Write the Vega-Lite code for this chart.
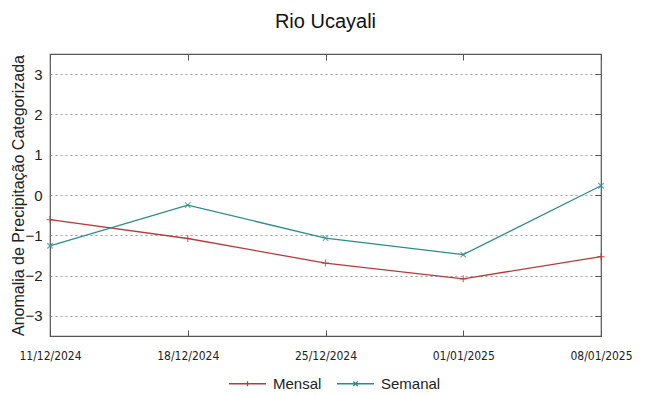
{
  "$schema": "https://vega.github.io/schema/vega-lite/v6.json",
  "width": 551,
  "height": 282,
  "autosize": {"type": "none"},
  "padding": {"left": 50, "top": 54, "right": 48, "bottom": 60},
  "background": "white",
  "title": {
    "text": "Rio Ucayali",
    "anchor": "middle",
    "font": "Liberation Sans",
    "fontSize": 20,
    "fontWeight": "normal",
    "color": "#111111",
    "offset": 22
  },
  "config": {
    "view": {"stroke": "#555555", "strokeWidth": 1.2},
    "axis": {"labelFont": "Liberation Sans", "titleFont": "Liberation Sans", "labelColor": "#222222", "titleColor": "#222222"}
  },
  "data": {
    "values": [
      {"data": "11/12/2024", "serie": "Mensal", "valor": -0.61},
      {"data": "18/12/2024", "serie": "Mensal", "valor": -1.08},
      {"data": "25/12/2024", "serie": "Mensal", "valor": -1.69},
      {"data": "01/01/2025", "serie": "Mensal", "valor": -2.08},
      {"data": "08/01/2025", "serie": "Mensal", "valor": -1.53},
      {"data": "11/12/2024", "serie": "Semanal", "valor": -1.26},
      {"data": "18/12/2024", "serie": "Semanal", "valor": -0.25},
      {"data": "25/12/2024", "serie": "Semanal", "valor": -1.07},
      {"data": "01/01/2025", "serie": "Semanal", "valor": -1.48},
      {"data": "08/01/2025", "serie": "Semanal", "valor": 0.23}
    ]
  },
  "resolve": {"axis": {"x": "independent", "y": "independent"}},
  "layer": [
    {
      "mark": {"type": "line", "strokeWidth": 1.3},
      "encoding": {
        "x": {
          "field": "data", "type": "ordinal", "sort": null,
          "scale": {"type": "point", "padding": 0},
          "axis": {"title": null, "labelAngle": 0, "labelFont": "DejaVu Sans Condensed, Liberation Sans", "labelFontSize": 12, "ticks": true, "tickSize": -6, "tickColor": "#555555", "domain": false, "labelPadding": 20, "grid": false}
        },
        "y": {
          "field": "valor", "type": "quantitative",
          "scale": {"domain": [-3.5, 3.5], "nice": false, "zero": false},
          "axis": {"title": "Anomalia de Precipitação Categorizada", "titleFontSize": 16, "titleFontWeight": "normal", "titlePadding": -2, "values": [-3, -2, -1, 0, 1, 2, 3], "labelFontSize": 15, "labelPadding": 8, "ticks": false, "domain": false, "grid": true, "gridColor": "#999999", "gridDash": [2, 3], "gridWidth": 1}
        },
        "color": {
          "field": "serie", "type": "nominal",
          "scale": {"domain": ["Mensal", "Semanal"], "range": ["#b83a3a", "#2b8c8c"]},
          "legend": {
            "title": null, "orient": "none", "direction": "horizontal", "legendX": 178, "legendY": 310,
            "labelFont": "Liberation Sans", "labelFontSize": 15, "labelColor": "#222222",
            "symbolSize": 1369, "symbolStrokeWidth": 1.3, "symbolType": "M-1,0H1M0,-0.12V0.12",
            "columnPadding": 12, "labelOffset": 6,
            "encode": {"symbols": {"update": {"shape": {"signal": "datum.label == 'Mensal' ? 'M-1,0H1M0,-0.14V0.14' : 'M-1,0H1M-0.12,-0.12L0.12,0.12M-0.12,0.12L0.12,-0.12'"}}}}
          }
        }
      }
    },
    {
      "transform": [{"filter": "datum.serie == 'Mensal'"}],
      "mark": {"type": "point", "shape": "M-1,0H1M0,-1V1", "filled": false, "size": 50, "strokeWidth": 1.2, "color": "#b83a3a"},
      "encoding": {
        "x": {"field": "data", "type": "ordinal", "sort": null, "scale": {"type": "point", "padding": 0}, "axis": {"orient": "top", "title": null, "labels": false, "domain": false, "tickSize": -6, "tickColor": "#555555"}},
        "y": {"field": "valor", "type": "quantitative", "scale": {"domain": [-3.5, 3.5], "nice": false, "zero": false}, "axis": {"orient": "right", "title": null, "labels": false, "domain": false, "grid": false, "values": [-3, -2, -1, 0, 1, 2, 3], "tickSize": -6, "tickColor": "#555555"}}
      }
    },
    {
      "transform": [{"filter": "datum.serie == 'Semanal'"}],
      "mark": {"type": "point", "shape": "M-1,-1L1,1M-1,1L1,-1", "filled": false, "size": 30, "strokeWidth": 1.2, "color": "#2b8c8c"},
      "encoding": {
        "x": {"field": "data", "type": "ordinal", "sort": null, "scale": {"type": "point", "padding": 0}, "axis": null},
        "y": {"field": "valor", "type": "quantitative", "scale": {"domain": [-3.5, 3.5], "nice": false, "zero": false}, "axis": null}
      }
    }
  ]
}
